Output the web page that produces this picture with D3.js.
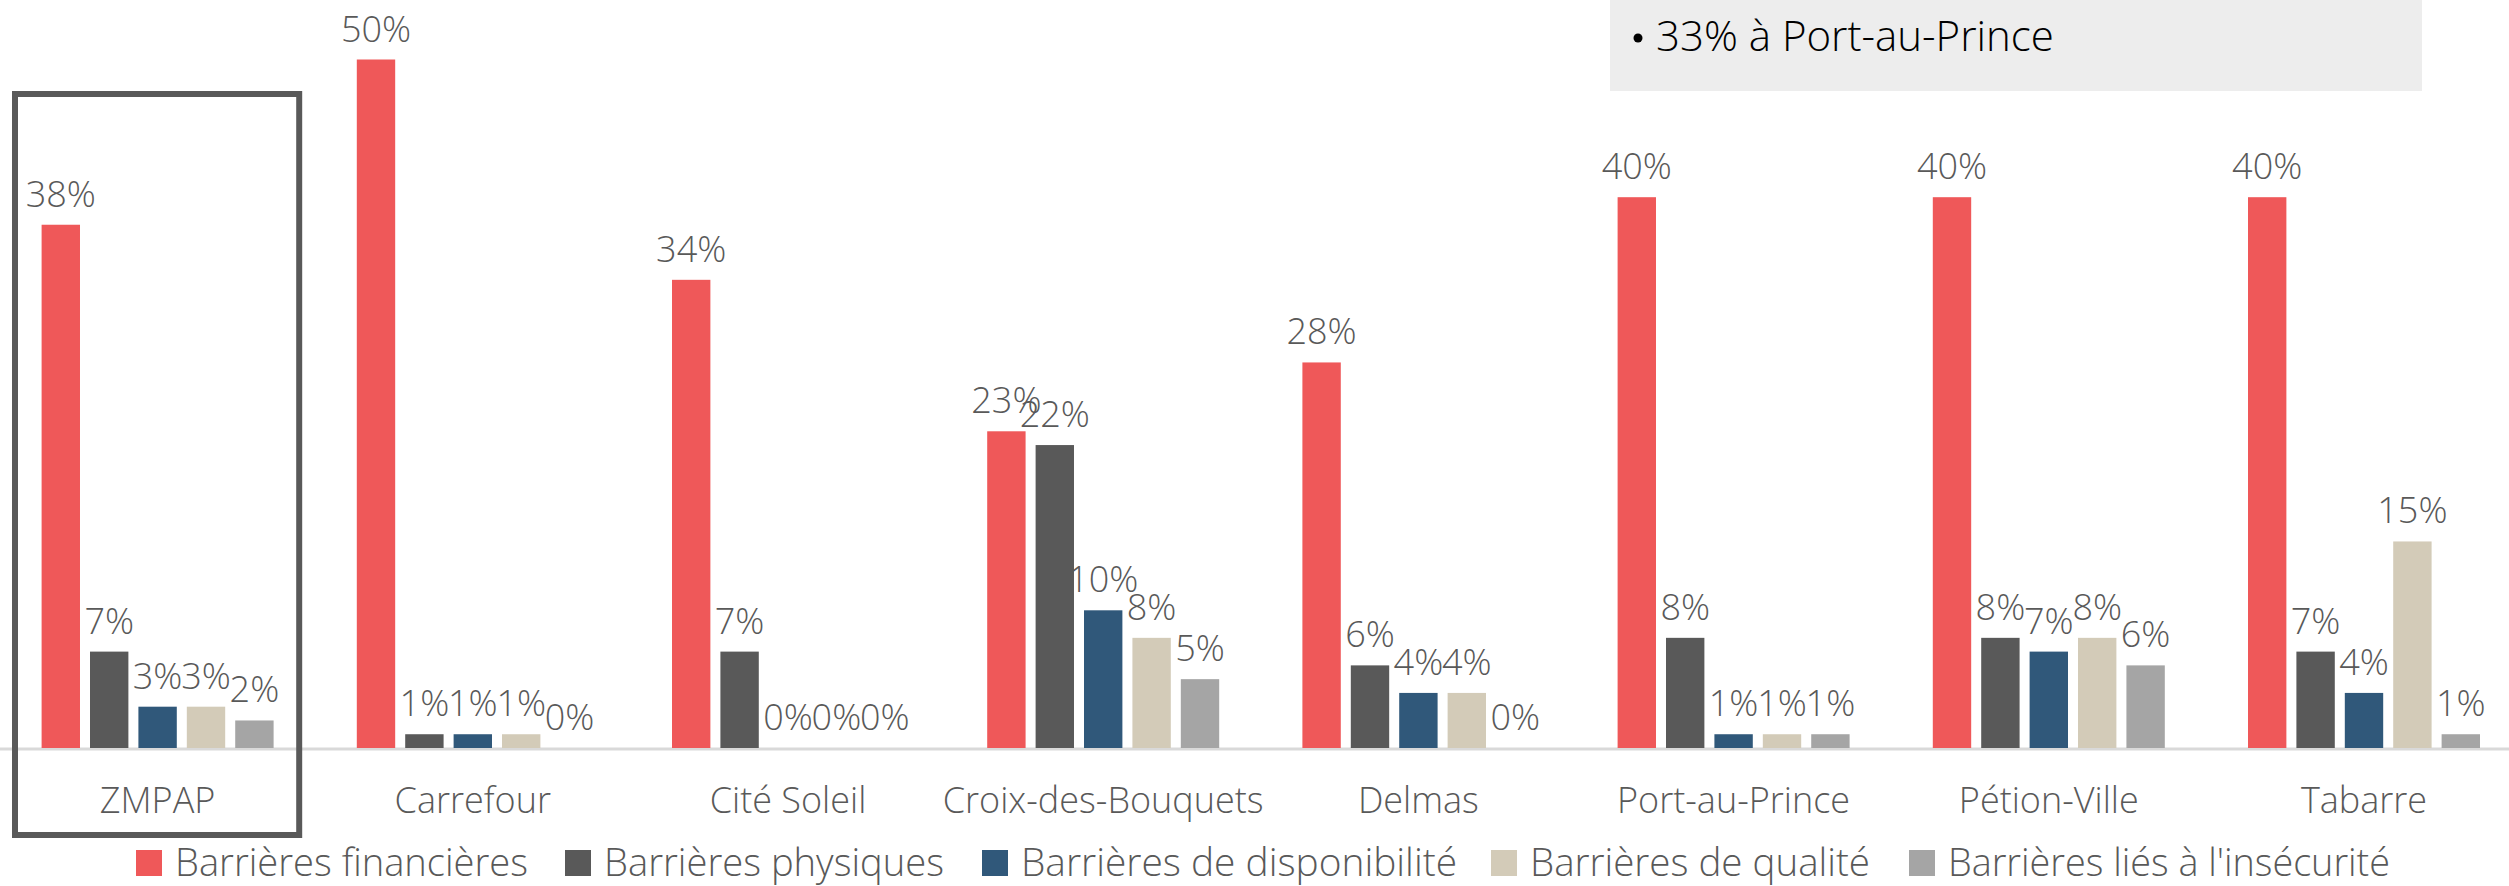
<!DOCTYPE html>
<html>
<head>
<meta charset="utf-8">
<script src="https://cdn.jsdelivr.net/npm/d3@7"></script>
<style>
  html, body { margin: 0; padding: 0; background: #fff; }
  svg { display: block; }
  text { font-family: "Segoe UI Light", "Open Sans", "Noto Sans", sans-serif; font-weight: 300; }
</style>
</head>
<body>
<svg id="chart" width="2509" height="886"></svg>
<script>
const categories = ["ZMPAP", "Carrefour", "Cité Soleil", "Croix-des-Bouquets", "Delmas", "Port-au-Prince", "Pétion-Ville", "Tabarre"];
const seriesNames = ["Barrières financières", "Barrières physiques", "Barrières de disponibilité", "Barrières de qualité", "Barrières liés à l'insécurité"];
const financieres   = [38, 50, 34, 23, 28, 40, 40, 40];
const physiques     = [7, 1, 7, 22, 6, 8, 8, 7];
const disponibilite = [3, 1, 0, 10, 4, 1, 7, 4];
const qualite       = [3, 1, 0, 8, 4, 1, 8, 15];
const insecurite    = [2, 0, 0, 5, 0, 1, 6, 1];
const seriesColors  = ["#EF5859", "#595959", "#30587A", "#D3CBB8", "#A5A5A5"];
const noteText = "33% à Port-au-Prince";

const seriesValues = [financieres, physiques, disponibilite, qualite, insecurite];
const series = seriesNames.map((name, i) => ({ name, color: seriesColors[i], values: seriesValues[i] }));

const svg = d3.select("#chart");

// Note box top-right
svg.append("rect").attr("x", 1610).attr("y", 0).attr("width", 812).attr("height", 91).attr("fill", "#EDEDED");
svg.append("circle").attr("cx", 1638).attr("cy", 38).attr("r", 4.5).attr("fill", "#000");
svg.append("text").attr("x", 1656).attr("y", 51).attr("font-size", 42).attr("fill", "#000").text(noteText);

const x = d3.scaleBand().domain(categories).range([0, 2521.6]).padding(0);
const groupW = 232;
const xs = d3.scaleBand().domain(seriesNames)
  .range([(x.bandwidth() - groupW) / 2, (x.bandwidth() + groupW) / 2])
  .paddingInner(0.207).paddingOuter(0);
const y = d3.scaleLinear().domain([0, 50]).range([748, 59.5]);

// baseline axis
svg.append("line").attr("x1", 0).attr("x2", 2509).attr("y1", 749).attr("y2", 749)
  .attr("stroke", "#D9D9D9").attr("stroke-width", 3);

const groups = svg.append("g").selectAll("g").data(categories).join("g")
  .attr("transform", d => `translate(${x(d)},0)`);

groups.each(function(cat, ci) {
  const g = d3.select(this);
  series.forEach(s => {
    const v = s.values[ci];
    g.append("rect")
      .attr("x", xs(s.name)).attr("width", xs.bandwidth())
      .attr("y", y(v)).attr("height", y(0) - y(v))
      .attr("fill", s.color);
  });
  series.forEach(s => {
    const v = s.values[ci];
    g.append("text")
      .attr("x", xs(s.name) + xs.bandwidth() / 2)
      .attr("y", y(v) - 18)
      .attr("text-anchor", "middle")
      .attr("font-size", 36)
      .attr("fill", "#595959")
      .text(v + "%");
  });
});

// category labels
svg.append("g").selectAll("text").data(categories).join("text")
  .attr("x", d => x(d) + x.bandwidth() / 2)
  .attr("y", 813)
  .attr("text-anchor", "middle")
  .attr("font-size", 36)
  .attr("fill", "#595959")
  .text(d => d);

// highlight box around ZMPAP
svg.append("rect")
  .attr("x", x("ZMPAP") + 15).attr("y", 94)
  .attr("width", x.bandwidth() - 31).attr("height", 741)
  .attr("fill", "none").attr("stroke", "#595959").attr("stroke-width", 6);

// legend
const legendX = [136, 565, 982, 1491, 1909];
const legendW = [353, 340, 436, 340, 442];
const lg = svg.append("g").selectAll("g").data(series).join("g")
  .attr("transform", (d, i) => `translate(${legendX[i]},0)`);
lg.append("rect").attr("x", 0).attr("y", 850).attr("width", 26).attr("height", 26).attr("fill", d => d.color);
lg.append("text").attr("x", 39).attr("y", 876).attr("font-size", 38).attr("fill", "#595959")
  .attr("textLength", (d, i) => legendW[i]).attr("lengthAdjust", "spacingAndGlyphs")
  .text(d => d.name);
</script>
</body>
</html>
